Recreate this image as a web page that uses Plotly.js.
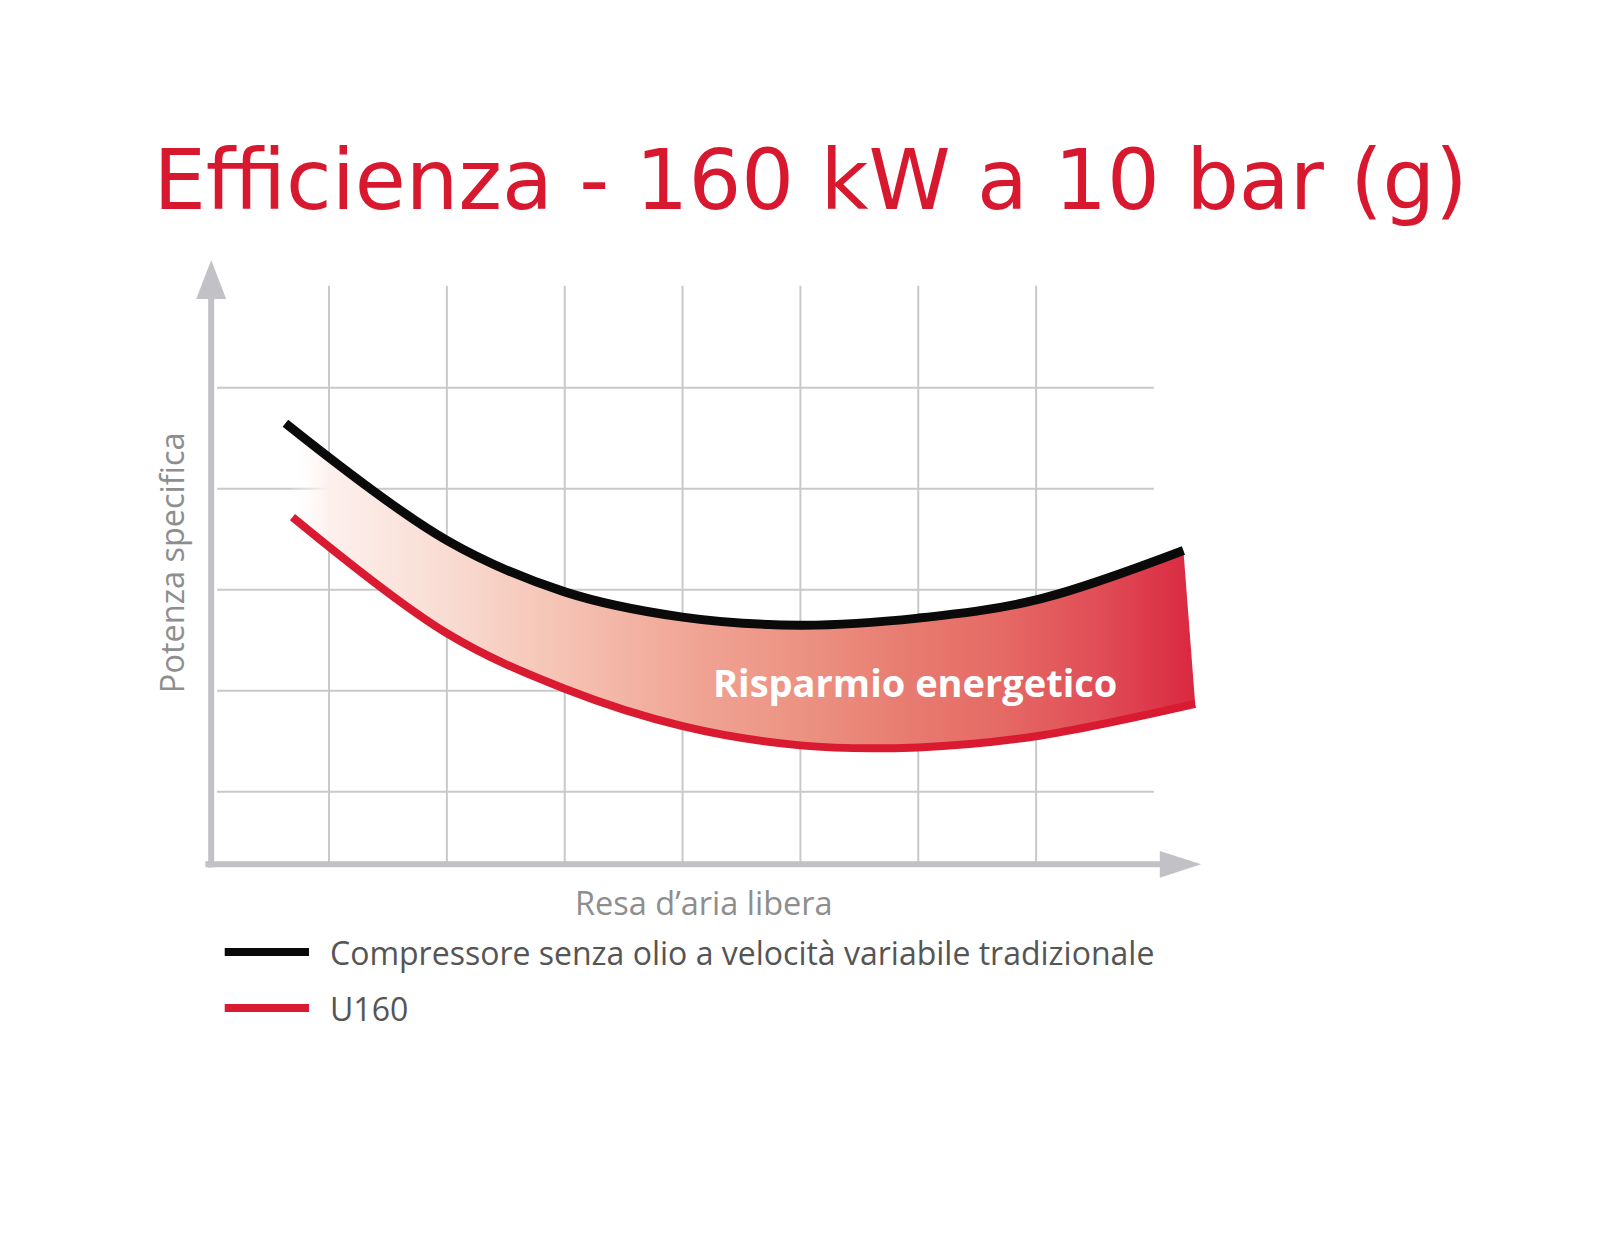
<!DOCTYPE html>
<html>
<head>
<meta charset="utf-8">
<script src="https://cdn.plot.ly/plotly-3.0.1.min.js"></script>
<style>
  body { margin: 0; background: white; }
  #chart { width: 1600px; height: 1235px; }
</style>
</head>
<body>
<div id="chart"></div>
<script>
// values (x = resa d'aria, y = potenza specifica, grid units)
var xVals = [0.63, 2.0, 3.0, 4.0, 5.0, 6.0, 7.0, 8.25];
var tradizionale = [3.65, 2.49, 1.98, 1.73, 1.65, 1.72, 1.90, 2.39];
var xValsU160 = [0.69, 2.0, 3.0, 4.0, 5.0, 6.0, 7.0, 8.35];
var u160 = [2.72, 1.57, 1.02, 0.65, 0.46, 0.44, 0.55, 0.87];

var seriesNames = ["Compressore senza olio a velocità variabile tradizionale", "U160"];
var gridX = [1, 2, 3, 4, 5, 6, 7];
var gridY = [0, 1, 2, 3, 4];

var black = "#0a0a0a";
var red = "#d91a30";
var axisGray = "#c1c1c6";
var gridGray = "#c9c9c9";

//curves
var traceTrad = {
  x: xVals, y: tradizionale,
  type: "scatter", mode: "lines",
  name: seriesNames[0],
  line: { color: black, width: 9, shape: "spline", smoothing: 1 },
  showlegend: false, hoverinfo: "skip"
};
var traceU160 = {
  x: xValsU160, y: u160,
  type: "scatter", mode: "lines",
  name: seriesNames[1],
  fill: "tonexty",
  fillgradient: {
    type: "horizontal",
    start: 0.65, stop: 8.35,
    colorscale: [
      [0, "rgba(255,255,255,0)"],
      [0.046, "#fdf0ec"],
      [0.168, "#f9ddd4"],
      [0.30, "#f5c3b4"],
      [0.454, "#f0a393"],
      [0.564, "#ec9383"],
      [0.675, "#e87d72"],
      [0.785, "#e56a65"],
      [0.895, "#e04d56"],
      [1, "#da2840"]
    ]
  },
  line: { color: red, width: 8, shape: "spline", smoothing: 1 },
  showlegend: false, hoverinfo: "skip"
};

//grid + axes as shapes
var shapes = [];
gridX.forEach(function (gx) {
  shapes.push({ type: "line", layer: "below", x0: gx, x1: gx, y0: -0.72, y1: 5.01,
    line: { color: gridGray, width: 2 } });
});
gridY.forEach(function (gy) {
  shapes.push({ type: "line", layer: "below", x0: 0.05, x1: 8.0, y0: gy, y1: gy,
    line: { color: gridGray, width: 2 } });
});
// y axis + arrow
shapes.push({ type: "line", x0: 0, x1: 0, y0: -0.75, y1: 4.9, line: { color: axisGray, width: 6 } });
shapes.push({ type: "path", path: "M -0.127 4.879 L 0 5.265 L 0.127 4.879 Z",
  fillcolor: axisGray, line: { width: 0 } });
// x axis + arrow
shapes.push({ type: "line", x0: -0.05, x1: 8.06, y0: -0.718, y1: -0.718, line: { color: axisGray, width: 6 } });
shapes.push({ type: "path", path: "M 8.05 -0.586 L 8.40 -0.718 L 8.05 -0.85 Z",
  fillcolor: axisGray, line: { width: 0 } });

//legend swatches + labels
var legendY = [-1.586, -2.141];
var legendColors = [black, red];
var annotations = [];
seriesNames.forEach(function (nm, i) {
  shapes.push({ type: "line", x0: 0.115, x1: 0.83, y0: legendY[i], y1: legendY[i],
    line: { color: legendColors[i], width: 8 } });
  annotations.push({ x: 0.99, y: legendY[i], xref: "x", yref: "y", text: nm,
    showarrow: false, xanchor: "left", yanchor: "middle",
    font: { family: "Open Sans", size: 32, color: "#555555" } });
});

annotations.push({ x: 5.972, y: 1.087, xref: "x", yref: "y", text: "Risparmio energetico",
  showarrow: false, xanchor: "center", yanchor: "middle",
  font: { family: "Open Sans", size: 38, color: "white", weight: "bold" } });
annotations.push({ x: -0.34, y: 2.265, xref: "x", yref: "y", text: "Potenza specifica",
  showarrow: false, textangle: -90, xanchor: "center", yanchor: "middle",
  font: { family: "Open Sans", size: 32.5, color: "#8e8e8e" } });
annotations.push({ x: 4.18, y: -1.10, xref: "x", yref: "y", text: "Resa d\u2019aria libera",
  showarrow: false, xanchor: "center", yanchor: "middle",
  font: { family: "Open Sans", size: 32.5, color: "#8e8e8e" } });

var layout = {
  width: 1600, height: 1235,
  margin: { l: 0, r: 0, t: 0, b: 0 },
  paper_bgcolor: "white", plot_bgcolor: "white",
  title: {
    text: "Efficienza - 160 kW a 10 bar (g)",
    x: 0.5066, xanchor: "center", y: 0.854, yanchor: "middle",
    font: { family: "DejaVu Sans", size: 83, color: "#d7182f" }
  },
  xaxis: { range: [-1.792, 11.785], visible: false, fixedrange: true },
  yaxis: { range: [-4.388, 7.840], visible: false, fixedrange: true },
  shapes: shapes,
  annotations: annotations,
  showlegend: false
};

Plotly.newPlot("chart", [traceTrad, traceU160], layout, { staticPlot: true });
</script>
</body>
</html>
